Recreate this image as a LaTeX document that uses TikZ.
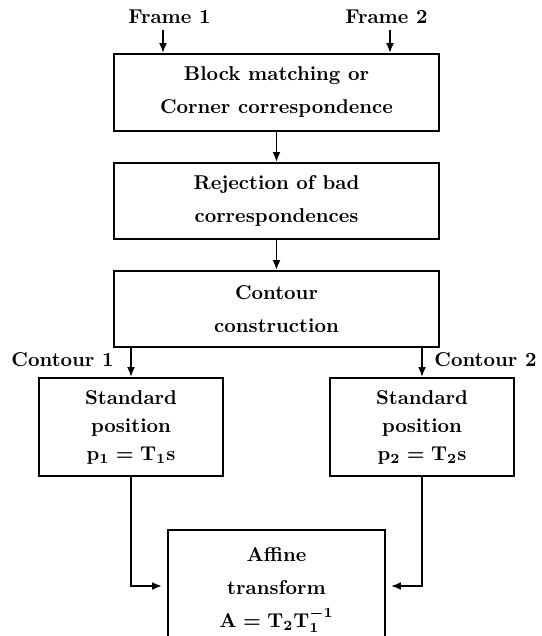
\documentclass[tikz,border=0pt]{standalone}
\usetikzlibrary{arrows.meta}
\newcommand{\eqpone}{\mbox{\boldmath$\mathbf{p}_{\mathbf{1}}=\mathbf{T}_{\mathbf{1}}\mathbf{s}$}}
\newcommand{\eqptwo}{\mbox{\boldmath$\mathbf{p}_{\mathbf{2}}=\mathbf{T}_{\mathbf{2}}\mathbf{s}$}}
\newcommand{\eqaff}{\mbox{\boldmath$\mathbf{A}=\mathbf{T}_{\mathbf{2}}\mathbf{T}_{\mathbf{1}}^{-\mathbf{1}}$}}
\begin{document}
\begin{tikzpicture}[x=0.5pt,y=-0.5pt,
  box/.style={draw,line width=0.95pt,inner sep=0pt,align=center,
    font=\fontsize{10}{16.5}\selectfont\bfseries},
  sbox/.style={box,font=\fontsize{10}{14}\selectfont\bfseries},
  lbl/.style={inner sep=0pt,font=\fontsize{10}{12}\selectfont\bfseries},
  arr/.style={line width=0.95pt,-{Latex[length=5pt,width=4pt]}}]
\useasboundingbox (0,0) rectangle (541,636);
% top labels
\node[lbl] (f1) at (169.5,17) {Frame 1};
\node[lbl] (f2) at (386.5,17) {Frame 2};
\coordinate (f1s) at (163,30);
\coordinate (f2s) at (390,30);
% boxes
\node[box,minimum width=162.5pt,minimum height=38.5pt] (b1) at (276.5,92.5)
  {Block matching or\\Corner correspondence};
\node[box,minimum width=162.5pt,minimum height=38pt] (b2) at (276.5,201)
  {Rejection of bad\\correspondences};
\node[box,minimum width=162.5pt,minimum height=38pt] (b3) at (276.5,309)
  {Contour\\construction};
\node[sbox,minimum width=92pt,minimum height=49pt] (sl) at (131,427)
  {Standard\\position\\\eqpone};
\node[sbox,minimum width=92pt,minimum height=49pt] (sr) at (422,427)
  {Standard\\position\\\eqptwo};
\node[box,minimum width=108.5pt,minimum height=60pt] (af) at (276.5,590)
  {Affine\\transform\\\eqaff};
% contour labels
\node[lbl,anchor=east] (c1) at (114,360) {Contour 1};
\node[lbl,anchor=west] (c2) at (434,360) {Contour 2};
% connectors
\draw[arr] (f1s) -- (f1s |- b1.north);
\draw[arr] (f2s) -- (f2s |- b1.north);
\draw[arr] (b1) -- (b2);
\draw[arr] (b2) -- (b3);
\draw[arr] (sl.north |- b3.south) -- (sl.north);
\draw[arr] (sr.north |- b3.south) -- (sr.north);
\draw[arr,shorten >=2.5pt] (sl.south) |- ([yshift=2pt]af.west);
\draw[arr,shorten >=2.5pt] (sr.south) |- ([yshift=2pt]af.east);
\end{tikzpicture}
\end{document}
